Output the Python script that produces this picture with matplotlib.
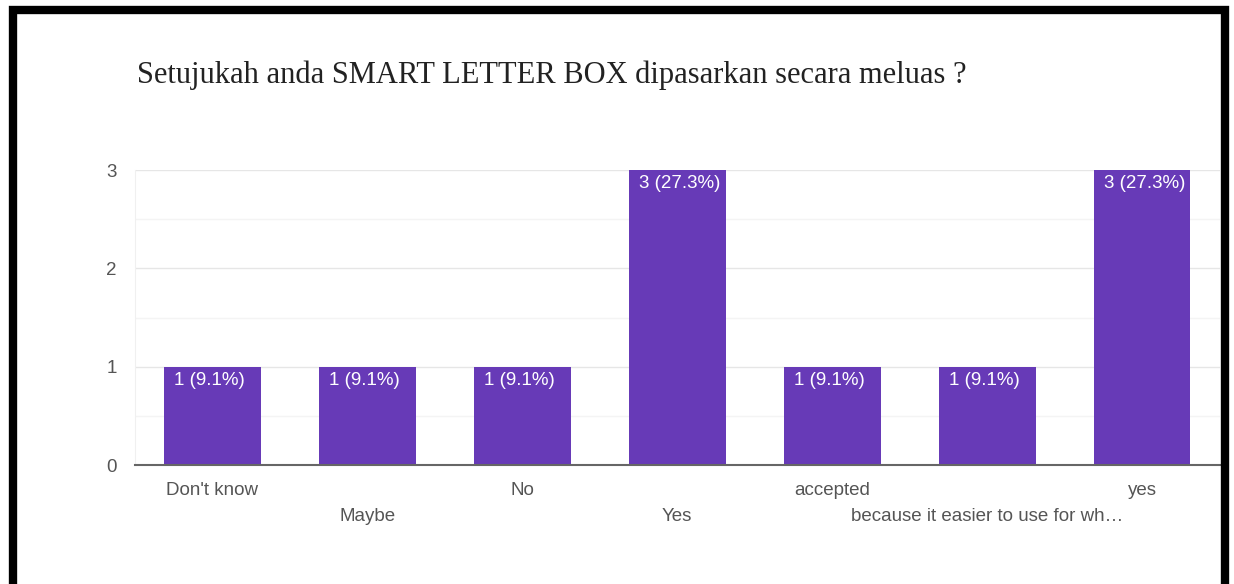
import matplotlib.pyplot as plt
from matplotlib.patches import Rectangle

categories = ["Don't know", "Maybe", "No", "Yes", "accepted",
              "because it easier to use for wh\u2026", "yes"]
counts = [1, 1, 1, 3, 1, 1, 3]
percents = [9.1, 9.1, 9.1, 27.3, 9.1, 9.1, 27.3]

title = "Setujukah anda SMART LETTER BOX dipasarkan secara meluas ?"
bar_color = "#673ab7"
text_gray = "#555555"

fig = plt.figure(figsize=(12.34, 5.84), dpi=100)
fig.patch.set_facecolor("white")

# black frame round the picture (bottom edge is cut off)
left_px, right_px, top_px = 13, 1225, 10
fig.add_artist(Rectangle((left_px / 1234, -0.1), (right_px - left_px) / 1234,
                         1.1 - top_px / 584,
                         transform=fig.transFigure, fill=False,
                         edgecolor="black", linewidth=6, clip_on=False))

ax = fig.add_axes([135 / 1234, 119 / 584, (1219.5 - 135) / 1234, 295 / 584])

x = list(range(len(categories)))
bars = ax.bar(x, counts, width=0.625, color=bar_color, zorder=3)

for b, c, p in zip(bars, counts, percents):
    ax.annotate(f"{c} ({p}%)", xy=(b.get_x(), b.get_height()),
                xytext=(7.5, -3.5), textcoords="offset points",
                ha="left", va="top", color="white", fontsize=13.5,
                family="Liberation Sans", zorder=4)

ax.set_xlim(-0.5, len(categories) - 0.5)
ax.set_ylim(0, 3)
ax.set_yticks([0, 1, 2, 3])
ax.set_yticks([0.5, 1.5, 2.5], minor=True)
ax.grid(axis="y", which="major", color="#e6e6e6", linewidth=1, zorder=0)
ax.grid(axis="y", which="minor", color="#f4f4f4", linewidth=1, zorder=0)
ax.tick_params(axis="y", which="both", length=0, pad=13, labelsize=13.5,
               labelcolor=text_gray)
for lab in ax.get_yticklabels():
    lab.set_family("Liberation Sans")

ax.set_xticks([])
for i, name in enumerate(categories):
    row_y = -0.085 if i % 2 == 0 else -0.173
    ax.text(i, row_y, name, transform=ax.get_xaxis_transform(),
            ha="center", va="center", fontsize=13.5, color=text_gray,
            family="Liberation Sans")

for side in ["top", "right"]:
    ax.spines[side].set_visible(False)
ax.spines["left"].set_color("#f0f0f0")
ax.spines["bottom"].set_color("#666666")
ax.spines["bottom"].set_linewidth(1.5)
ax.spines["bottom"].set_zorder(5)

fig.text(137 / 1234, 1 - 75 / 584, title, ha="left", va="center",
         fontsize=22, family="Liberation Serif", color="#222222")

fig.savefig("out.png", dpi=100)
